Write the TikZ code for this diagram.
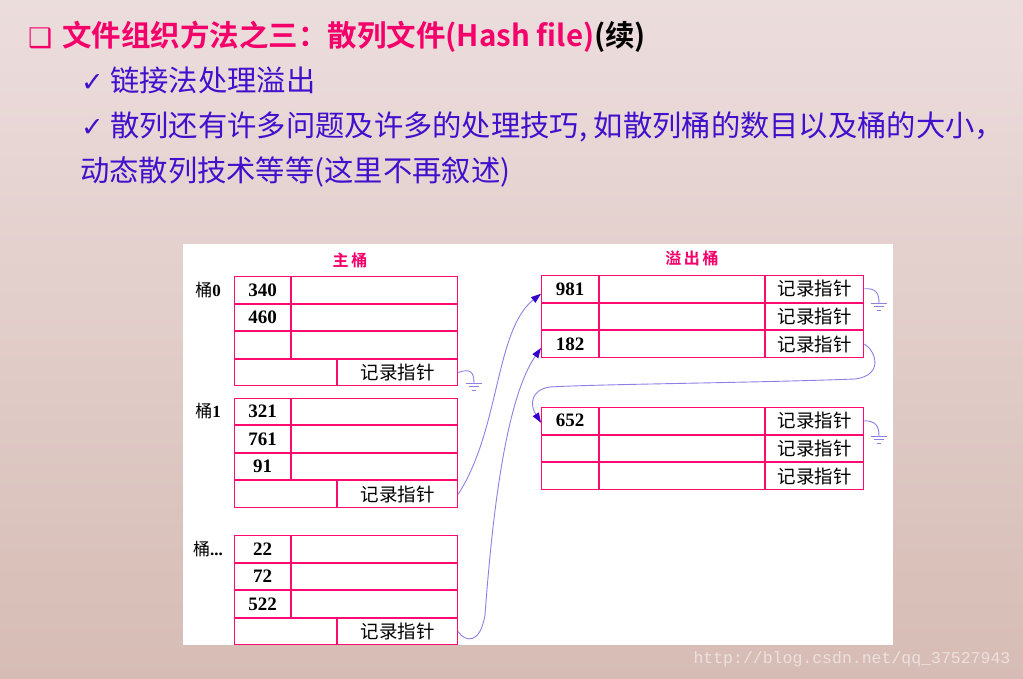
\documentclass[tikz,border=0pt]{standalone}
\usepackage{fontspec}
\setmainfont{Liberation Serif}
\newfontfamily\cjk{Noto Sans CJK SC}[BoldFont={Noto Sans CJK SC Bold}]
\newfontfamily\symfont{DejaVu Sans}
\newfontfamily\wmfont{Liberation Mono}
\usetikzlibrary{arrows.meta}

\definecolor{titlered}{HTML}{F5006A}
\definecolor{cellred}{HTML}{FF0A6E}
\definecolor{bodyblue}{HTML}{4010CC}
\definecolor{linkblue}{HTML}{8C80E6}
\definecolor{tipblue}{HTML}{3300CC}
\definecolor{bgtop}{RGB}{236,221,221}
\definecolor{bgbot}{RGB}{214,188,180}

\tikzset{
  cell/.style={draw=cellred,line width=1.1pt,inner sep=0pt,anchor=north west,
    minimum height=26.5pt,font=\bfseries\fontsize{19}{20}\selectfont},
  ptr/.style={cell,font=\cjk\fontsize{18.5}{20}\selectfont},
  tag/.style={font=\fontsize{17}{20}\selectfont},
  head/.style={font=\cjk\bfseries\fontsize{16}{20}\selectfont,text=titlered},
  link/.style={draw=linkblue,line width=0.9pt,-{Triangle[length=10pt,width=7pt,color=tipblue]}},
  nil/.style={draw=linkblue,line width=0.9pt},
  earth/.pic={
    \draw[nil] (-8,0) -- (8,0);
    \draw[nil] (-5,3.5) -- (5,3.5);
    \draw[nil] (-2,7) -- (2,7);
  },
}

\begin{document}
\begin{tikzpicture}[x=1pt,y=-1pt]
  \useasboundingbox (0,0) rectangle (1023,679);
  \shade[top color=bgtop,bottom color=bgbot] (0,0) rectangle (1023,679);
  \fill[white] (183,244) rectangle (893,645);

  % heading and remarks
  \node[anchor=west,inner sep=0pt,text=titlered,font=\symfont\fontsize{27}{30}\selectfont] (mark) at (28,38) {❑};
  \node[anchor=west,inner sep=0pt,font=\cjk\bfseries\fontsize{29.5}{32}\selectfont] (title) at (62,37)
    {\textcolor{titlered}{文件组织方法之三：散列文件(Hash file)}(续)};
  \node[anchor=west,inner sep=0pt,text=bodyblue,font=\cjk\fontsize{29.3}{32}\selectfont] (line1) at (81,80)
    {{\symfont\fontsize{27}{30}\selectfont ✓} 链接法处理溢出};
  \node[anchor=west,inner sep=0pt,text=bodyblue,font=\cjk\fontsize{29.3}{32}\selectfont] (line2) at (81,127)
    {{\symfont\fontsize{27}{30}\selectfont ✓} 散列还有许多问题及许多的处理技巧, 如散列桶的数目以及桶的大小，};
  \node[anchor=west,inner sep=0pt,text=bodyblue,font=\cjk\fontsize{29.3}{32}\selectfont] (line3) at (80,172)
    {动态散列技术等等(这里不再叙述)};

  % main buckets
  \node[head] (mainhead) at (350,260) {主\,桶};
  \foreach \nm/\top/\lab/\ka/\kb/\kc in {b0/276/{\cjk 桶}\textbf{0}/340/460/, b1/397.5/{\cjk 桶}\textbf{1}/321/761/91, b2/535/{\cjk 桶}\textbf{...}/22/72/522} {
    \node[cell,minimum width=56pt] (\nm-k1) at (234,\top) {\ka};
    \node[cell,minimum width=166pt] (\nm-d1) at (\nm-k1.north east) {};
    \node[cell,minimum width=56pt] (\nm-k2) at (\nm-k1.south west) {\kb};
    \node[cell,minimum width=166pt] (\nm-d2) at (\nm-k2.north east) {};
    \node[cell,minimum width=56pt] (\nm-k3) at (\nm-k2.south west) {\kc};
    \node[cell,minimum width=166pt] (\nm-d3) at (\nm-k3.north east) {};
    \node[cell,minimum width=102pt] (\nm-pl) at (\nm-k3.south west) {};
    \node[ptr,minimum width=120pt] (\nm-pr) at (\nm-pl.north east) {记录指针};
    \node[tag] (\nm-tag) at ([xshift=-26pt]\nm-k1.west) {\lab};
  }

  % overflow buckets
  \node[head] (overhead) at (692,258) {溢\,出\,桶};
  \foreach \nm/\top/\ka/\kb/\kc in {o1/275/981//182, o2/407/652//} {
    \node[cell,minimum width=57pt] (\nm-k1) at (541,\top) {\ka};
    \node[cell,minimum width=165pt] (\nm-d1) at (\nm-k1.north east) {};
    \node[ptr,minimum width=98pt] (\nm-p1) at (\nm-d1.north east) {记录指针};
    \node[cell,minimum width=57pt] (\nm-k2) at (\nm-k1.south west) {\kb};
    \node[cell,minimum width=165pt] (\nm-d2) at (\nm-k2.north east) {};
    \node[ptr,minimum width=98pt] (\nm-p2) at (\nm-d2.north east) {记录指针};
    \node[cell,minimum width=57pt] (\nm-k3) at (\nm-k2.south west) {\kc};
    \node[cell,minimum width=165pt] (\nm-d3) at (\nm-k3.north east) {};
    \node[ptr,minimum width=98pt] (\nm-p3) at (\nm-d3.north east) {记录指针};
  }

  % null pointers
  \coordinate (g0) at (474,383);
  \coordinate (g1) at (879,303);
  \coordinate (g2) at (879,436);
  \draw[nil] (b0-pr.east) .. controls (470,368) and (474,372) .. (g0);
  \draw[nil] (o1-p1.east) .. controls (875,288) and (879,292) .. (g1);
  \draw[nil] (o2-p1.east) .. controls (875,421) and (879,425) .. (g2);
  \pic at (g0) {earth};
  \pic at (g1) {earth};
  \pic at (g2) {earth};

  % chains
  \draw[link] (b1-pr.east) .. controls (500,430) and (495,330) .. ([yshift=-5pt]o1-k1.west);
  \draw[link] (b2-pr.east) .. controls (465,642) and (480,645) .. (485,615)
    .. controls (492,520) and (505,400) .. ([yshift=-4pt]o1-k3.west);
  \draw[link] (o1-p3.east) .. controls (875,350) and (885,375) .. (855,379)
    .. controls (750,383) and (600,384) .. (550,387)
    .. controls (530,390) and (530,405) .. ([yshift=-2pt]o2-k1.west);

  % watermark
  \node[anchor=west,text=white,opacity=0.55,font=\wmfont\fontsize{16.5}{18}\selectfont] (mark2) at (690,659)
    {http://blog.csdn.net/qq\_37527943};
\end{tikzpicture}
\end{document}
